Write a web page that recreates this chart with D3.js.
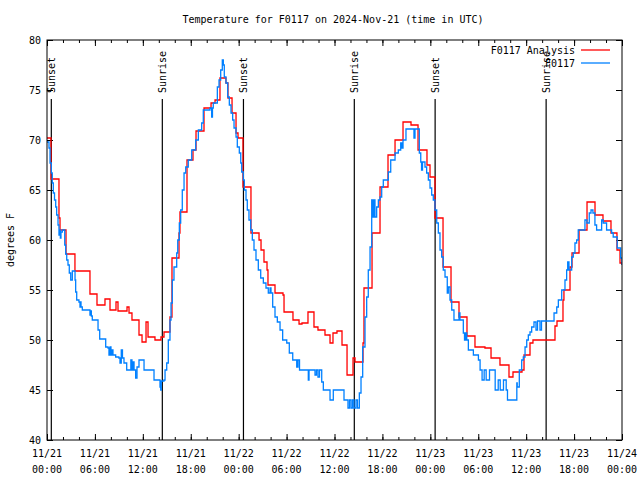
<!DOCTYPE html>
<html><head><meta charset="utf-8">
<script src="https://cdn.jsdelivr.net/npm/d3@7"></script>
<style>
body{margin:0;background:#fff}
text{font-family:"DejaVu Sans Mono","Liberation Mono",monospace;font-size:10px;fill:#000}
</style>
</head><body>
<svg id="chart" width="640" height="480"></svg>
<script>
const title = "Temperature for F0117 on 2024-Nov-21 (time in UTC)";
const yLabel = "degrees F";
const seriesNames = ["F0117 Analysis", "F0117"];
const yTicks = [40, 45, 50, 55, 60, 65, 70, 75, 80];
const xTickHours = [0, 6, 12, 18, 24, 30, 36, 42, 48, 54, 60, 66, 72];
const sunLabels = ["Sunset", "Sunrise", "Sunset", "Sunrise", "Sunset", "Sunrise"];
const sunHours = [0.54, 14.44, 24.6, 38.48, 48.6, 62.5];

// Analysis (red) — hours since 11/21 00:00 UTC, degrees F
const analysisHours = [0,0.5,1.5,1.63,2.38,3.5,5.38,6.26,7.26,7.89,8.64,8.89,10.02,10.27,10.64,11.52,11.9,12.4,12.65,13.52,14.27,14.65,15.4,15.65,16.53,16.65,17.53,18.28,18.66,19.66,20.54,21.04,21.66,22.41,22.66,23.17,23.67,23.92,24.54,25.54,26.55,26.8,27.17,27.55,27.67,28.55,29.55,29.68,30.8,31.56,31.93,32.68,33.43,33.93,34.81,35.44,35.81,36.31,36.94,37.57,38.32,38.57,39.57,39.69,40.7,41.7,42.7,43.58,44.58,45.58,46.46,47.58,47.96,48.58,49.59,50.59,51.59,52.59,53.59,54.84,55.6,56.72,57.85,58.35,59.48,59.73,60.48,60.85,63.61,63.86,64.61,64.73,65.49,65.74,66.62,67.62,68.62,69.62,70.62,71.37,71.75,72];
const analysisTemps = [70.2,66.1,62.2,61.0,58.6,56.9,54.6,53.5,54.1,53.0,53.8,52.9,53.3,52.7,52.0,50.5,49.8,51.8,50.3,50.0,50.3,50.8,52.3,58.2,60.7,62.8,68.0,69.0,70.9,73.2,73.7,74.0,76.2,75.7,74.2,72.7,70.7,70.2,65.3,60.7,60.0,59.0,57.8,57.0,55.5,54.7,54.5,52.8,52.0,51.6,51.7,52.8,51.3,51.0,50.5,49.7,50.7,50.9,49.5,46.5,48.2,47.8,49.7,55.2,60.7,65.3,68.5,70.0,71.8,71.5,69.0,67.5,66.3,62.2,57.3,53.8,52.3,50.4,49.3,49.2,48.2,47.5,46.3,46.8,47.0,48.5,49.7,50.0,51.4,51.9,54.0,55.0,57.3,58.7,61.0,63.8,62.5,61.9,60.7,59.0,57.7,57.5];

// Observations (blue)
const obsHours = [0,0.25,0.38,0.54,0.66,0.79,0.94,1.09,1.21,1.38,1.5,1.59,1.67,1.75,1.92,2.22,2.34,2.47,2.63,2.79,2.97,3.17,3.51,3.59,3.72,4.0,4.13,4.19,4.26,4.42,5.38,5.47,5.55,5.67,6.39,6.6,7.35,7.64,7.76,7.89,8.01,8.14,8.26,8.6,9.0,9.14,9.3,9.45,9.64,9.98,10.5,10.64,10.76,10.9,11.1,11.27,11.52,12.15,13.4,14.15,14.24,14.31,14.65,14.78,14.99,15.19,15.4,15.53,15.69,15.9,16.24,16.37,16.57,16.74,16.94,17.16,17.37,17.69,18.12,18.62,18.95,19.37,19.57,20.41,20.62,20.72,20.82,21.33,21.54,21.75,21.95,22.08,22.2,22.41,22.63,22.83,23.04,23.25,23.42,23.67,23.83,24.08,24.26,24.38,24.58,24.71,24.92,25.08,25.29,25.51,25.71,25.92,26.17,26.46,26.76,27.09,27.42,27.71,27.93,28.05,28.26,28.55,28.84,29.18,29.51,30.02,30.34,30.77,31.27,31.43,31.62,32.72,32.81,33.56,33.74,33.93,34.12,34.4,34.6,35.44,35.85,37.19,37.69,37.88,38.07,38.26,38.44,38.69,38.88,39.11,39.32,39.53,39.82,40.03,40.23,40.45,40.66,40.82,40.95,41.07,41.28,41.49,41.7,41.91,42.11,42.74,43.04,43.58,43.99,44.29,44.45,44.58,44.95,45.95,46.08,46.62,46.8,46.9,47.02,47.33,47.54,47.75,47.96,48.17,48.37,48.58,48.8,49.0,49.21,49.42,49.62,49.84,50.12,50.25,50.46,50.68,50.96,51.59,51.71,52.13,52.28,52.4,52.56,52.76,53.39,54.02,54.23,54.48,54.74,54.99,55.41,56.12,56.5,56.75,57.16,57.5,57.66,58.83,58.88,59.14,59.44,59.64,59.86,60.07,60.27,60.48,60.69,60.98,61.23,61.42,61.73,61.92,63.49,63.83,64.03,64.45,64.86,65.07,65.2,65.36,65.7,65.9,66.11,66.32,66.52,67.36,67.61,67.9,68.12,68.36,68.61,68.82,69.45,69.65,70.07,70.7,70.9,71.4,71.83,72];
const obsTemps = [69.8,69.2,67.7,66.7,65.7,64.7,64.0,63.3,62.5,61.5,60.5,61.0,60.2,60.8,61.0,59.5,58.6,58.0,57.5,56.7,56.0,56.9,56.0,54.8,54.0,53.8,53.3,53.8,53.3,53.0,52.5,52.9,52.4,52.0,51.0,50.1,49.3,49.2,48.5,49.3,48.5,49.0,48.5,48.3,48.2,47.7,49.0,48.2,47.7,47.0,48.0,47.0,47.8,47.0,46.2,47.3,48.0,47.0,46.0,45.3,45.0,45.9,46.0,47.0,47.7,50.0,52.0,53.7,56.0,57.3,58.7,60.0,61.7,63.0,65.0,66.7,67.3,68.0,69.0,70.0,71.0,71.7,73.0,73.2,72.3,73.2,73.7,75.3,76.0,77.0,78.0,77.5,76.3,75.7,74.3,73.5,72.7,72.0,71.2,70.3,69.3,68.7,67.7,66.8,66.0,65.0,64.0,63.0,62.0,61.0,60.0,59.0,58.0,57.0,56.2,55.7,55.2,54.7,55.2,54.7,53.3,52.3,51.8,51.0,50.0,49.7,48.7,48.0,47.3,48.0,47.0,46.0,47.0,46.5,47.0,46.3,47.0,45.8,45.0,44.0,45.0,44.0,43.2,44.0,43.2,44.0,43.2,44.0,43.2,44.7,46.3,49.3,52.3,54.3,57.0,59.3,64.0,62.3,64.0,62.3,63.3,64.0,64.3,65.3,66.0,66.8,68.0,68.7,69.0,69.7,69.2,70.0,71.1,70.2,71.1,68.7,67.8,67.0,67.8,67.3,66.7,66.0,65.2,64.5,64.0,63.0,61.7,60.7,59.0,58.3,57.0,56.3,54.7,55.3,54.0,53.0,52.0,52.7,52.0,50.7,50.0,50.7,50.0,49.0,48.5,48.0,47.0,46.0,47.0,46.0,47.0,45.0,46.0,45.0,46.0,45.0,44.0,45.7,45.3,47.0,48.0,48.3,49.3,50.0,50.5,50.8,51.3,51.8,51.0,51.9,51.0,51.9,52.7,53.3,54.0,55.0,56.0,57.0,57.8,57.0,58.3,58.7,59.7,60.0,61.0,62.0,61.7,62.7,63.0,62.7,61.5,61.0,62.0,61.7,61.0,60.7,60.3,59.2,58.2,57.5];

const svg = d3.select("#chart");
const margin = {top: 40, right: 18, bottom: 40, left: 47};
const W = 640, H = 480;
const iw = W - margin.left - margin.right, ih = H - margin.top - margin.bottom;
const t0 = Date.UTC(2024, 10, 21);
const hr = h => new Date(t0 + h * 3600000);

const x = d3.scaleUtc().domain([hr(0), hr(72)]).range([margin.left, W - margin.right]);
const y = d3.scaleLinear().domain([40, 80]).range([H - margin.bottom, margin.top]);

svg.append("rect").attr("width", W).attr("height", H).attr("fill", "#fff");

// title
svg.append("text").attr("x", 333).attr("y", 23).attr("text-anchor", "middle").text(title);
// y label
svg.append("text").attr("transform", "translate(14,240) rotate(-90)").attr("text-anchor", "middle").text(yLabel);

const g = svg.append("g");
const minorHours = d3.range(0, 73, 2);

// x ticks bottom and top
const xb = d3.axisBottom(x).tickValues(xTickHours.map(hr)).tickSize(-6).tickFormat("");
const xt = d3.axisTop(x).tickValues(xTickHours.map(hr)).tickSize(-6).tickFormat("");
const xbm = d3.axisBottom(x).tickValues(minorHours.map(hr)).tickSize(-3).tickFormat("");
const xtm = d3.axisTop(x).tickValues(minorHours.map(hr)).tickSize(-3).tickFormat("");
const yl = d3.axisLeft(y).tickValues(yTicks).tickSize(-6).tickFormat("");
const yr = d3.axisRight(y).tickValues(yTicks).tickSize(-6).tickFormat("");
g.append("g").attr("transform", `translate(0,${H - margin.bottom})`).call(xb);
g.append("g").attr("transform", `translate(0,${H - margin.bottom})`).call(xbm);
g.append("g").attr("transform", `translate(0,${margin.top})`).call(xt);
g.append("g").attr("transform", `translate(0,${margin.top})`).call(xtm);
g.append("g").attr("transform", `translate(${margin.left},0)`).call(yl);
g.append("g").attr("transform", `translate(${W - margin.right},0)`).call(yr);
g.selectAll(".domain").remove();
g.selectAll(".tick line").attr("stroke", "#000").attr("stroke-width", 1);

// y tick labels
svg.append("g").selectAll("text").data(yTicks).join("text")
  .attr("x", margin.left - 6).attr("y", d => y(d)).attr("dy", "0.35em")
  .attr("text-anchor", "end").text(d => d);

// x tick labels (two lines)
const fmtD = d3.utcFormat("%m/%d"), fmtT = d3.utcFormat("%H:%M");
const xl = svg.append("g").selectAll("text").data(xTickHours.map(hr)).join("text")
  .attr("text-anchor", "middle");
xl.append("tspan").attr("x", d => x(d)).attr("y", 457).text(fmtD);
xl.append("tspan").attr("x", d => x(d)).attr("y", 473).text(fmtT);

// clip
svg.append("clipPath").attr("id", "clip").append("rect")
  .attr("x", margin.left).attr("y", margin.top).attr("width", iw).attr("height", ih);

// sun lines
const sun = svg.append("g");
sun.selectAll("line").data(sunHours).join("line")
  .attr("x1", d => x(hr(d))).attr("x2", d => x(hr(d)))
  .attr("y1", H - margin.bottom).attr("y2", margin.top + 59)
  .attr("stroke", "#000").attr("stroke-width", 1.2);
sun.selectAll("text").data(sunHours).join("text")
  .attr("transform", d => `translate(${x(hr(d)) + 3.5},${margin.top + 53}) rotate(-90)`)
  .attr("text-anchor", "start").text((d, i) => sunLabels[i]);

// series
const line = d3.line().curve(d3.curveStepAfter).x(d => x(hr(d[0]))).y(d => y(d[1]));
const redData = analysisHours.map((h, i) => [h, analysisTemps[i]]);
const blueData = obsHours.map((h, i) => [h, obsTemps[i]]);
const colors = ["#ff0000", "#0080ff"];
const plot = svg.append("g").attr("clip-path", "url(#clip)");
plot.append("path").datum(redData).attr("d", line).attr("fill", "none")
  .attr("stroke", colors[0]).attr("stroke-width", 1.3);
plot.append("path").datum(blueData).attr("d", line).attr("fill", "none")
  .attr("stroke", colors[1]).attr("stroke-width", 1.3);

// border
svg.append("rect").attr("x", margin.left).attr("y", margin.top).attr("width", iw).attr("height", ih)
  .attr("fill", "none").attr("stroke", "#000").attr("stroke-width", 1);

// legend
const leg = svg.append("g");
seriesNames.forEach((n, i) => {
  const ly = 50 + i * 13;
  leg.append("text").attr("x", 575).attr("y", ly).attr("dy", "0.35em").attr("text-anchor", "end").text(n);
  leg.append("line").attr("x1", 581).attr("x2", 610).attr("y1", ly).attr("y2", ly)
    .attr("stroke", colors[i]).attr("stroke-width", 1.3);
});
</script>
</body></html>
